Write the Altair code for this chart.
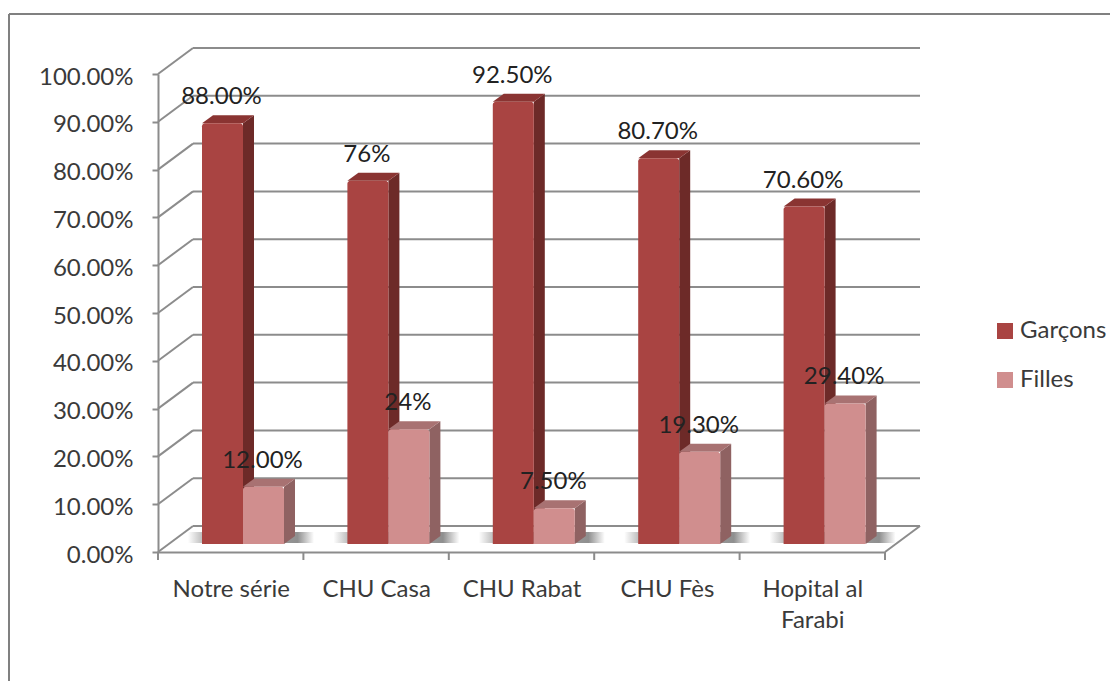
import altair as alt
import pandas as pd

categories = ["Notre série", "CHU Casa", "CHU Rabat", "CHU Fès", "Hopital al Farabi"]
garcons = [88.0, 76.0, 92.5, 80.7, 70.6]
filles = [12.0, 24.0, 7.5, 19.3, 29.4]
garcons_text = ["88.00%", "76%", "92.50%", "80.70%", "70.60%"]
filles_text = ["12.00%", "24%", "7.50%", "19.30%", "29.40%"]
y_ticks = list(range(0, 101, 10))
series = ["Garçons", "Filles"]

W, H = 727, 478
PXX = W / 5
PXY = H / 100
font = "Lato"
grey = "#8c8c8c"
txt = "#3a3a3a"

wall_dx, wall_dy = 35 / PXX, 26 / PXY
bar_dx, bar_dy = 11 / PXX, 8 / PXY
base = 8 / PXY
bar_w = 41 / PXX
start = {"Garçons": 44 / PXX, "Filles": 85 / PXX}
cols = {
    "Garçons": dict(front="#a94442", side="#6d2a28", top="#8a3432"),
    "Filles": dict(front="#d08e8e", side="#8f6262", top="#a87272"),
}

rows = []
for i, c in enumerate(categories):
    for s, vals, tx in (("Garçons", garcons, garcons_text), ("Filles", filles, filles_text)):
        x0 = i + start[s]
        rows.append(dict(cat=c, i=i, s=s, v=vals[i], tx=tx[i], key=f"k{i}{s[0]}", x0=x0, x1=x0 + bar_w,
                         y0=base, y1=base + vals[i], tx_y=base + vals[i] + 26 / PXY, tx_x=x0 + bar_w / 2 - 1 / PXX))
df = pd.DataFrame(rows)

xs = alt.Scale(domain=[0, 5], nice=False, zero=False)
ys = alt.Scale(domain=[0, 100], nice=False, zero=False)
X = lambda f, **k: alt.X(f, type="quantitative", scale=xs, axis=None, **k)
Y = lambda f, **k: alt.Y(f, type="quantitative", scale=ys, axis=None, **k)

grid = pd.DataFrame({"v": y_ticks})
grid["x0"], grid["x1"] = 0.0, wall_dx
grid["xa"], grid["xb"] = wall_dx, 5 + wall_dx
grid["ya"] = grid["v"] + wall_dy
back = alt.Chart(grid).mark_rule(color=grey, strokeWidth=2).encode(X("xa"), x2="xb", y=Y("ya"))
diag = alt.Chart(grid).mark_rule(color=grey, strokeWidth=2).encode(X("x0"), x2="x1", y=Y("v"), y2="ya")

floor = pd.DataFrame({"x": [5.0], "x2": [5 + wall_dx], "y": [0.0], "y2": [wall_dy]})
floor_edge = alt.Chart(floor).mark_rule(color=grey, strokeWidth=2).encode(X("x"), x2="x2", y=Y("y"), y2="y2")

label_map = "{" + ",".join(f"'{i + 0.5}':'{c}'" for i, c in enumerate(categories[:-1])) + "}"
axes = alt.Chart(grid).mark_rule(opacity=0).encode(
    x=alt.X("x0:Q", scale=xs, axis=alt.Axis(
        values=[i + 0.5 for i in range(5)], ticks=False, grid=False, title=None,
        domainColor=grey, domainWidth=2, labelFont=font, labelFontSize=24, labelColor=txt,
        labelPadding=37, labelLineHeight=31, labelBaseline="middle", labelAngle=0, labelFlush=False,
        labelOverlap=False,
        labelExpr=f"datum.value==4.5?['Hopital al','Farabi']:{label_map}[''+datum.value]")),
    y=alt.Y("v:Q", scale=ys, axis=alt.Axis(
        values=y_ticks, grid=False, title=None, domainColor=grey, domainWidth=2,
        tickColor=grey, tickWidth=2, tickSize=6, labelFont=font, labelFontSize=24, labelColor=txt,
        labelPadding=19, labelOffset=3, labelFlush=False, labelOverlap=False,
        labelExpr="format(datum.value,'.2f')+'%'")),
)
xt = pd.DataFrame({"x": list(range(6))})
xt["y"], xt["y2"] = 0.0, -8 / PXY
xticks = alt.Chart(xt).mark_rule(color=grey, strokeWidth=2).encode(X("x"), y=Y("y"), y2="y2")

sh = pd.DataFrame({"i": range(5)})
sh["a"] = sh["i"] + 30 / PXX
sh["b"] = sh["i"] + 156 / PXX
sh["y"], sh["y2"] = 1.9, 4.2
shadow = alt.Chart(sh).mark_rect(color=alt.Gradient(
    gradient="linear", x1=0, x2=1, y1=0, y2=0,
    stops=[alt.GradientStop(offset=0, color="#ffffff"), alt.GradientStop(offset=0.11, color="#c0c0c0"),
           alt.GradientStop(offset=0.87, color="#8f8f8f"), alt.GradientStop(offset=1, color="#ffffff")])
).encode(X("a"), x2="b", y=Y("y"), y2="y2")


def faces(s):
    d = df[df.s == s]
    c = cols[s]
    a = d.assign(px=d.x1, ya=d.y1, yb=d.y0)
    b = d.assign(px=d.x1 + bar_dx, ya=d.y1 + bar_dy, yb=d.y0 + bar_dy)
    side = alt.Chart(pd.concat([a, b], ignore_index=True)).mark_area(color=c["side"], orient="vertical").encode(
        X("px"), y=Y("ya", stack=None), y2="yb", detail="key:N")
    a = d.assign(xa=d.x0, xb=d.x1, py=d.y1)
    b = d.assign(xa=d.x0 + bar_dx, xb=d.x1 + bar_dx, py=d.y1 + bar_dy)
    top = alt.Chart(pd.concat([a, b], ignore_index=True)).mark_area(color=c["top"], orient="horizontal").encode(
        X("xa", stack=None), x2="xb", y=Y("py"), detail="key:N")
    return [side, top]


front = lambda s: alt.Chart(df[df.s == s]).mark_rect(cornerRadiusTopLeft=3, cornerRadiusTopRight=3).encode(
    X("x0"), x2="x1", y=Y("y0"), y2="y1",
    color=alt.Color("s:N", scale=alt.Scale(domain=series, range=[cols[k]["front"] for k in series]),
                    legend=alt.Legend(orient="none", legendX=835, legendY=245, title=None, symbolType="square",
                                      symbolSize=256, symbolStrokeWidth=0, labelFont=font, labelFontSize=24,
                                      labelColor=txt, rowPadding=25, labelOffset=3, zindex=0,
                                      values=series)),
)

labels = alt.Chart(df).mark_text(font=font, fontSize=24, color="#222222", baseline="middle", align="center").encode(
    X("tx_x"), y=Y("tx_y"), text="tx:N")

fr_top = alt.Chart(grid.head(1)).mark_rule(color="#808080", strokeWidth=2).encode(
    x=alt.value(-149), x2=alt.value(952), y=alt.value(-60))
fr_left = alt.Chart(grid.head(1)).mark_rule(color="#808080", strokeWidth=2).encode(
    x=alt.value(-149), y=alt.value(-60), y2=alt.value(620))

layers = [axes, fr_top, fr_left, back, diag, floor_edge, xticks, shadow]
layers += faces("Garçons") + [front("Garçons")] + faces("Filles") + [front("Filles"), labels]

chart = alt.layer(*layers).resolve_axis(x="independent", y="independent").properties(
    width=W, height=H,
    padding={"left": 150, "top": 66, "right": 225, "bottom": 129},
    autosize=alt.AutoSizeParams(type="none"),
    background="white",
).configure_view(stroke=None)

chart.save("out.html", embed_options={"renderer": "svg", "actions": False})
